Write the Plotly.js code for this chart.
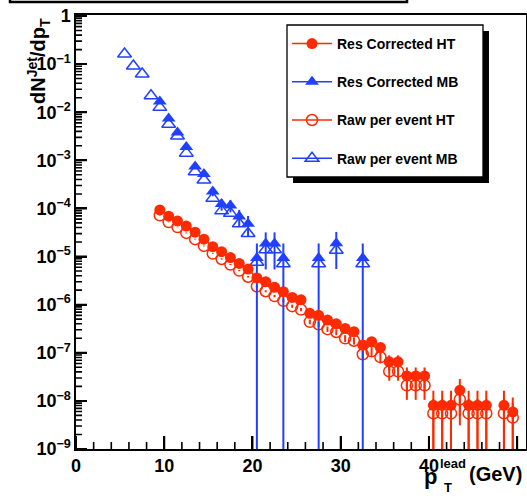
<!DOCTYPE html>
<html><head><meta charset="utf-8">
<script src="https://cdn.plot.ly/plotly-3.0.1.min.js"></script>
<style>html,body{margin:0;padding:0;background:#fff;} #c{width:527px;height:496px;}</style>
</head><body><div id="c"></div>
<script>
// ---- data ----
const ptHT = [9.5,10.5,11.5,12.5,13.5,14.5,15.5,16.5,17.5,18.5,19.5,
  20.5,21.5,22.5,23.5,24.5,25.5,26.5,27.5,28.5,29.5,
  30.5,31.5,32.5,33.5,34.5,35.5,36.5,37.5,38.5,39.5,
  40.5,41.5,42.5,43.5,44.5,45.5,46.5,48.5,49.5];
const resHT = [9.3e-5,6.9e-5,5.5e-5,4.3e-5,3.2e-5,2.3e-5,1.6e-5,1.26e-5,9.5e-6,7.2e-6,5.5e-6,
  3.6e-6,3.0e-6,2.3e-6,1.86e-6,1.41e-6,1.26e-6,6.6e-7,6.0e-7,4.8e-7,4.0e-7,
  3.2e-7,2.75e-7,1.45e-7,1.7e-7,1.29e-7,6.5e-8,6.5e-8,3.3e-8,3.3e-8,3.3e-8,
  8.1e-9,8.1e-9,8.1e-9,1.66e-8,8.1e-9,8.1e-9,8.1e-9,8.1e-9,5.9e-9];
const rawHT = [7.2e-5,5.2e-5,4.1e-5,3.1e-5,2.3e-5,1.66e-5,1.15e-5,8.9e-6,6.8e-6,5.1e-6,3.8e-6,
  2.4e-6,1.9e-6,1.51e-6,1.2e-6,9.3e-7,7.9e-7,4.4e-7,3.9e-7,3.1e-7,2.7e-7,
  2.0e-7,1.78e-7,9.3e-8,1.07e-7,8.1e-8,4.1e-8,4.1e-8,2.1e-8,2.1e-8,2.1e-8,
  5.5e-9,5.5e-9,5.5e-9,1.07e-8,5.5e-9,5.5e-9,5.5e-9,5.5e-9,4.5e-9];
// relative errors
const errHT = [0.01,0.01,0.01,0.02,0.02,0.02,0.02,0.03,0.03,0.03,0.04,
  0.05,0.05,0.06,0.07,0.08,0.08,0.11,0.12,0.13,0.14,
  0.16,0.17,0.23,0.22,0.25,0.36,0.36,0.5,0.5,0.5,
  1,1,1,0.71,1,1,1,1,1];

const ptMBres = [9.5,10.5,11.5,12.5,13.5,14.5,15.5,16.5,17.5,18.5,19.5,20.5,21.5,22.5,23.5,27.5,29.5,32.5];
const resMB = [1.66e-2,7.4e-3,3.8e-3,1.9e-3,7.4e-4,5.2e-4,2.24e-4,1.23e-4,1.15e-4,6.8e-5,4.8e-5,
  9.3e-6,1.86e-5,1.86e-5,9.3e-6,9.3e-6,1.9e-5,9.3e-6];
const errMB = [0.02,0.03,0.04,0.07,0.11,0.13,0.2,0.27,0.28,0.37,0.45,1,0.71,0.71,1,1,0.71,1];

const ptMBraw = [5.5,6.5,7.5,8.5,9.5,10.5,11.5,12.5,13.5,14.5,15.5,16.5,17.5,18.5,19.5,20.5,21.5,22.5,23.5,27.5,29.5,32.5];
const rawMB = [0.162,0.091,0.062,0.022,0.0126,5.6e-3,3.2e-3,1.41e-3,5.8e-4,3.9e-4,1.62e-4,8.9e-5,7.9e-5,4.8e-5,3.0e-5,
  7.6e-6,1.38e-5,1.38e-5,7.1e-6,7.1e-6,1.35e-5,7.1e-6];

const legendNames = ['Res Corrected HT','Res Corrected MB','Raw per event HT','Raw per event MB'];
const xTickVals = [0,10,20,30,40,50];
const yExponents = [-9,-8,-7,-6,-5,-4,-3,-2,-1,0];

// ---- styling ----
const RED = '#ff2a00', BLUE = '#2040ff';
const FONT = 'Liberation Sans, Arial, Helvetica, sans-serif';
const absErr = (v, r) => v.map((y, i) => y * r[i]);

const L = 76, T = 15, W = 450, H = 434;
const px = x => (x - L) / W;
const py = y => (T + H - y) / H;
const YR = [-9, 0.02], XR = [0, 51];

// axis ticks (major ones drawn as paper-space paths too, to be sure they show)
const yTickVals = yExponents.map(e => Math.pow(10, e));
const yTickText = yExponents.map(e => e === 0 ? '1' : '10<sup>\u2212' + Math.abs(e) + '</sup>');
const yp = v => (Math.log10(v) - YR[0]) / (YR[1] - YR[0]);
const xp = v => (v - XR[0]) / (XR[1] - XR[0]);
let yMinorPath = '', yMajorPath = '';
for (let e = -9; e < 0; e++) for (let d = 2; d <= 9; d++) {
  yMinorPath += 'M0,' + yp(d * Math.pow(10, e)).toFixed(5) + 'H' + (6 / W).toFixed(5);
}
yTickVals.forEach(v => { yMajorPath += 'M0,' + yp(v).toFixed(5) + 'H' + (11 / W).toFixed(5); });
let xMinorPath = '', xMajorPath = '';
for (let v = 2; v < 51; v += 2) if (v % 10 !== 0) xMinorPath += 'M' + xp(v).toFixed(5) + ',0V' + (7 / H).toFixed(5);
xTickVals.forEach(v => { xMajorPath += 'M' + xp(v).toFixed(5) + ',0V' + (13 / H).toFixed(5); });

const mOpenTri = {symbol:'triangle-up-open', size:12, color:BLUE, line:{width:1.5, color:BLUE}};
const mFullTri = {symbol:'triangle-up', size:12, color:BLUE, line:{width:0}};
const mOpenCirc = {symbol:'circle-open', size:11, color:RED, line:{width:1.5, color:RED}};
const mFullCirc = {symbol:'circle', size:11, color:RED, line:{width:0}};

const traces = [
  {x: ptMBraw, y: rawMB, type:'scatter', mode:'markers', marker: mOpenTri, showlegend:false, hoverinfo:'skip'},
  {x: ptHT, y: rawHT, type:'scatter', mode:'markers', marker: mOpenCirc, showlegend:false, hoverinfo:'skip',
   error_y:{type:'data', symmetric:false, array: absErr(rawHT, errHT), arrayminus: absErr(rawHT, errHT), width:0, thickness:2, color:RED}},
  {x: ptMBres, y: resMB, type:'scatter', mode:'markers', marker: mFullTri, showlegend:false, hoverinfo:'skip',
   error_y:{type:'data', symmetric:false, array: absErr(resMB, errMB), arrayminus: absErr(resMB, errMB), width:0, thickness:2, color:BLUE}},
  {x: ptHT, y: resHT, type:'scatter', mode:'markers', marker: mFullCirc, showlegend:false, hoverinfo:'skip',
   error_y:{type:'data', symmetric:false, array: absErr(resHT, errHT), arrayminus: absErr(resHT, errHT), width:0, thickness:2, color:RED}},
  // legend entries
  {x:[null], y:[null], type:'scatter', mode:'lines+markers', name: legendNames[0], legendgroup:'a', marker: mFullCirc, line:{color:RED, width:1.5}},
  {x:[null], y:[null], type:'scatter', mode:'lines+markers', name: legendNames[1], legendgroup:'b', marker: mFullTri, line:{color:BLUE, width:1.5}},
  {x:[null], y:[null], type:'scatter', mode:'lines+markers', name: legendNames[2], legendgroup:'c', marker: mOpenCirc, line:{color:RED, width:1.5}},
  {x:[null], y:[null], type:'scatter', mode:'lines+markers', name: legendNames[3], legendgroup:'d', marker: mOpenTri, line:{color:BLUE, width:1.5}}
];

const axisCommon = {
  showline:true, linecolor:'black', linewidth:1.6, mirror:true,
  ticks:'inside', tickcolor:'black', tickwidth:2,
  showgrid:false, zeroline:false,
  tickfont:{family:FONT, size:18, weight:700, color:'#000'}
};

const layout = {
  width:527, height:496,
  margin:{l:L, r:527-L-W, t:T, b:496-T-H},
  font:{family:FONT, color:'#000'},
  showlegend:true,
  xaxis: Object.assign({}, axisCommon, {
    range:XR, tickmode:'array', tickvals: xTickVals, ticktext: xTickVals.map(String), ticklen:13
  }),
  yaxis: Object.assign({}, axisCommon, {
    type:'log', range:YR, tickmode:'array', tickvals: yTickVals, ticktext: yTickText, ticklen:11
  }),
  legend:{
    x: px(287), y: py(28), xanchor:'left', yanchor:'top',
    bgcolor:'rgba(0,0,0,0)', borderwidth:0,
    font:{family:FONT, size:14, weight:700, color:'#000'},
    tracegroupgap:17, itemwidth:40, traceorder:'grouped'
  },
  shapes:[
    {type:'path', xref:'paper', yref:'paper', path: yMinorPath, line:{color:'black', width:1.6}},
    {type:'path', xref:'paper', yref:'paper', path: yMajorPath, line:{color:'black', width:2}},
    {type:'path', xref:'paper', yref:'paper', path: xMinorPath, line:{color:'black', width:1.6}},
    {type:'path', xref:'paper', yref:'paper', path: xMajorPath, line:{color:'black', width:2}},
    {type:'rect', xref:'paper', yref:'paper', x0:px(293), x1:px(489), y0:py(183), y1:py(31), fillcolor:'black', line:{width:0}},
    {type:'rect', xref:'paper', yref:'paper', x0:px(287), x1:px(483), y0:py(177), y1:py(25), fillcolor:'white', line:{color:'black', width:1.3}},
    {type:'rect', xref:'paper', yref:'paper', x0:px(10), x1:px(407), y0:py(2), y1:py(-60), line:{color:'black', width:2.5}}
  ],
  annotations:[
    {text:'dN<sup>Jet</sup>/dp<sub>T</sub>', xref:'paper', yref:'paper', x:px(38), y:py(16), textangle:-90,
     xanchor:'center', yanchor:'top', showarrow:false, font:{family:FONT, size:20, weight:700, color:'#000'}},
    {text:'p', xref:'paper', yref:'paper', x:px(430), y:py(476), xanchor:'center', yanchor:'middle', showarrow:false,
     font:{family:FONT, size:22, weight:700, color:'#000'}},
    {text:'lead', xref:'paper', yref:'paper', x:px(453), y:py(464), xanchor:'center', yanchor:'middle', showarrow:false,
     font:{family:FONT, size:13, weight:700, color:'#000'}},
    {text:'T', xref:'paper', yref:'paper', x:px(448), y:py(487), xanchor:'center', yanchor:'middle', showarrow:false,
     font:{family:FONT, size:13, weight:700, color:'#000'}},
    {text:'(GeV)', xref:'paper', yref:'paper', x:px(495), y:py(474), xanchor:'center', yanchor:'middle', showarrow:false,
     font:{family:FONT, size:20, weight:700, color:'#000'}}
  ]
};

Plotly.newPlot('c', traces, layout, {staticPlot:true});
</script>
</body></html>
